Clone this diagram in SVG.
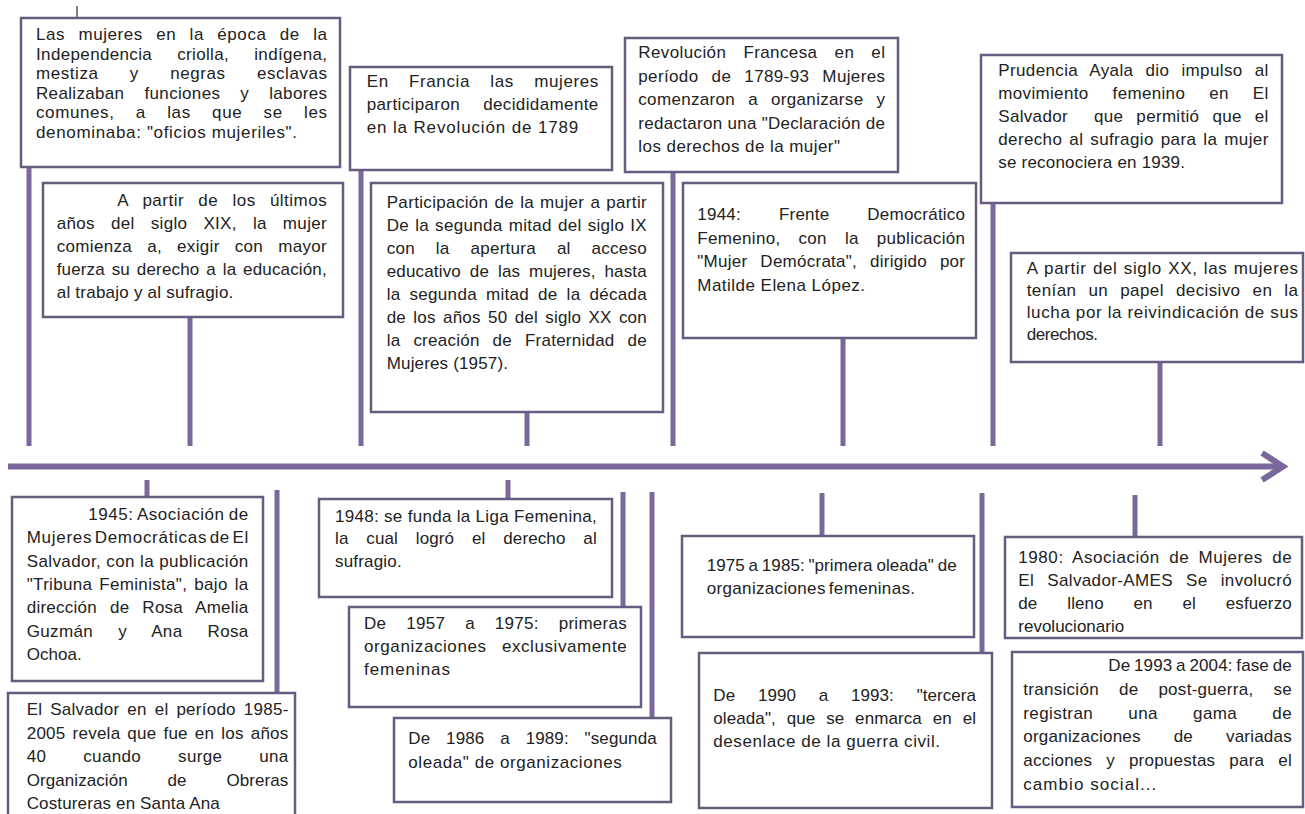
<svg xmlns="http://www.w3.org/2000/svg" width="1305" height="814" viewBox="0 0 1305 814">
  <style>
    .box { fill: #ffffff; stroke: #675c80; stroke-width: 2.5; }
    .ln { stroke: #7a689c; stroke-width: 5; fill: none; }
    .axis { stroke: #7a689c; stroke-width: 6; fill: none; stroke-linecap: butt; }
    text { font-family: "Liberation Sans", Arial, sans-serif; font-size: 17px; fill: #222222; }
  </style>
  <rect width="1305" height="814" fill="#ffffff"/>

  <!-- timeline axis and connector stems -->
  <g id="connectors">
    <line x1="77" y1="6" x2="77" y2="18" stroke="#555555" stroke-width="1.5"/>
    <line class="axis" x1="8" y1="466.5" x2="1280" y2="466.5"/>
    <polyline class="axis" points="1262,453 1283,466.5 1262,480" stroke-linejoin="miter"/>
    <!-- stems above the axis -->
    <line class="ln" x1="29" y1="167" x2="29" y2="446"/>
    <line class="ln" x1="190" y1="317" x2="190" y2="446"/>
    <line class="ln" x1="361" y1="170" x2="361" y2="446"/>
    <line class="ln" x1="527" y1="412" x2="527" y2="446"/>
    <line class="ln" x1="673" y1="172" x2="673" y2="446"/>
    <line class="ln" x1="843" y1="338" x2="843" y2="446"/>
    <line class="ln" x1="993" y1="203" x2="993" y2="446"/>
    <line class="ln" x1="1160" y1="362" x2="1160" y2="446"/>
    <!-- stems below the axis -->
    <line class="ln" x1="147" y1="480" x2="147" y2="497"/>
    <line class="ln" x1="277" y1="490" x2="277" y2="693"/>
    <line class="ln" x1="508" y1="480" x2="508" y2="499"/>
    <line class="ln" x1="623" y1="492" x2="623" y2="606"/>
    <line class="ln" x1="652" y1="492" x2="652" y2="718"/>
    <line class="ln" x1="822" y1="493" x2="822" y2="536"/>
    <line class="ln" x1="982" y1="493" x2="982" y2="653"/>
    <line class="ln" x1="1135" y1="495" x2="1135" y2="537"/>
  </g>

  <!-- upper events -->
  <g id="n-independencia">
    <rect class="box" x="21" y="18" width="319" height="149"/>
    <text x="36" y="40" textLength="291" lengthAdjust="spacing" word-spacing="8">Las mujeres en la época de la</text>
    <text x="36" y="59.6" textLength="291" lengthAdjust="spacing" word-spacing="20">Independencia criolla, indígena,</text>
    <text x="36" y="79.2" textLength="291" lengthAdjust="spacing" word-spacing="26">mestiza y negras esclavas</text>
    <text x="36" y="98.8" textLength="291" lengthAdjust="spacing" word-spacing="15">Realizaban funciones y labores</text>
    <text x="36" y="118.4" textLength="291" lengthAdjust="spacing" word-spacing="16">comunes, a las que se les</text>
    <text x="36" y="138" textLength="261" lengthAdjust="spacing">denominaba: "oficios mujeriles".</text>
  </g>

  <g id="n-siglo-xix">
    <rect class="box" x="43" y="183" width="300" height="134"/>
    <text x="117.3" y="206" textLength="209.4" lengthAdjust="spacing" word-spacing="9">A partir de los últimos</text>
    <text x="56.7" y="229" textLength="270" lengthAdjust="spacing" word-spacing="11">años del siglo XIX, la mujer</text>
    <text x="56.7" y="252" textLength="270" lengthAdjust="spacing" word-spacing="10">comienza a, exigir con mayor</text>
    <text x="56.7" y="275" textLength="270" lengthAdjust="spacing" word-spacing="2">fuerza su derecho a la educación,</text>
    <text x="56.7" y="298" textLength="176.6" lengthAdjust="spacing">al trabajo y al sufragio.</text>
  </g>

  <g id="n-francia-1789">
    <rect class="box" x="350" y="67" width="262" height="103"/>
    <text x="366.7" y="87" textLength="231.6" lengthAdjust="spacing" word-spacing="15">En Francia las mujeres</text>
    <text x="366.7" y="110" textLength="231.6" lengthAdjust="spacing" word-spacing="18">participaron decididamente</text>
    <text x="366.7" y="133" textLength="211.6" lengthAdjust="spacing">en la Revolución de 1789</text>
  </g>

  <g id="n-participacion">
    <rect class="box" x="371" y="183" width="292" height="229"/>
    <text x="386.7" y="208" textLength="260" lengthAdjust="spacing" word-spacing="1">Participación de la mujer a partir</text>
    <text x="386.7" y="231" textLength="260" lengthAdjust="spacing" word-spacing="1">De la segunda mitad del siglo IX</text>
    <text x="386.7" y="254" textLength="260" lengthAdjust="spacing" word-spacing="16">con la apertura al acceso</text>
    <text x="386.7" y="277" textLength="260" lengthAdjust="spacing" word-spacing="4">educativo de las mujeres, hasta</text>
    <text x="386.7" y="300" textLength="260" lengthAdjust="spacing" word-spacing="4">la segunda mitad de la década</text>
    <text x="386.7" y="323" textLength="260" lengthAdjust="spacing" word-spacing="2.5">de los años 50 del siglo XX con</text>
    <text x="386.7" y="346" textLength="260" lengthAdjust="spacing" word-spacing="8">la creación de Fraternidad de</text>
    <text x="386.7" y="369" textLength="121.3" lengthAdjust="spacing">Mujeres (1957).</text>
  </g>

  <g id="n-revolucion-francesa">
    <rect class="box" x="625" y="38" width="273" height="134"/>
    <text x="638.3" y="58" textLength="246.7" lengthAdjust="spacing" word-spacing="12">Revolución Francesa en el</text>
    <text x="638.3" y="81.5" textLength="246.7" lengthAdjust="spacing" word-spacing="8">período de 1789-93 Mujeres</text>
    <text x="638.3" y="105" textLength="246.7" lengthAdjust="spacing" word-spacing="8">comenzaron a organizarse y</text>
    <text x="638.3" y="128.5" textLength="246.7" lengthAdjust="spacing">redactaron una "Declaración de</text>
    <text x="638.3" y="152" textLength="201.7" lengthAdjust="spacing">los derechos de la mujer"</text>
  </g>

  <g id="n-frente-1944">
    <rect class="box" x="683" y="183" width="293" height="155"/>
    <text x="697.3" y="220" textLength="267.7" lengthAdjust="spacing" word-spacing="33">1944: Frente Democrático</text>
    <text x="697.3" y="243.5" textLength="267.7" lengthAdjust="spacing" word-spacing="13">Femenino, con la publicación</text>
    <text x="697.3" y="267" textLength="267.7" lengthAdjust="spacing" word-spacing="8">"Mujer Demócrata", dirigido por</text>
    <text x="697.3" y="290.5" textLength="167.7" lengthAdjust="spacing">Matilde Elena López.</text>
  </g>

  <g id="n-prudencia-ayala">
    <rect class="box" x="981" y="55" width="301" height="148"/>
    <text x="998.3" y="76" textLength="270" lengthAdjust="spacing" word-spacing="7">Prudencia Ayala dio impulso al</text>
    <text x="998.3" y="99" textLength="270" lengthAdjust="spacing" word-spacing="19">movimiento femenino en El</text>
    <text x="998.3" y="122" textLength="270" lengthAdjust="spacing" word-spacing="8">Salvador&#160; que permitió que el</text>
    <text x="998.3" y="145" textLength="270" lengthAdjust="spacing" word-spacing="2">derecho al sufragio para la mujer</text>
    <text x="998.3" y="168" textLength="186.7" lengthAdjust="spacing">se reconociera en 1939.</text>
  </g>

  <g id="n-siglo-xx">
    <rect class="box" x="1011" y="253" width="292" height="109"/>
    <text x="1026.7" y="274" textLength="271.3" lengthAdjust="spacing" word-spacing="1">A partir del siglo XX, las mujeres</text>
    <text x="1026.7" y="296" textLength="271.3" lengthAdjust="spacing" word-spacing="7">tenían un papel decisivo en la</text>
    <text x="1026.7" y="318" textLength="271.3" lengthAdjust="spacing">lucha por la reivindicación de sus</text>
    <text x="1026.7" y="340" textLength="71.3" lengthAdjust="spacing">derechos.</text>
  </g>

  <!-- lower events -->
  <g id="n-asociacion-1945">
    <rect class="box" x="12" y="497" width="251" height="184"/>
    <text x="88.3" y="520" textLength="160" lengthAdjust="spacing" word-spacing="-1">1945: Asociación de</text>
    <text x="26.7" y="543.3" textLength="221.6" lengthAdjust="spacing" word-spacing="-3">Mujeres Democráticas de El</text>
    <text x="26.7" y="566.7" textLength="221.6" lengthAdjust="spacing">Salvador, con la publicación</text>
    <text x="26.7" y="590" textLength="221.6" lengthAdjust="spacing" word-spacing="2">"Tribuna Feminista", bajo la</text>
    <text x="26.7" y="613.3" textLength="221.6" lengthAdjust="spacing" word-spacing="8">dirección de Rosa Amelia</text>
    <text x="26.7" y="636.7" textLength="221.6" lengthAdjust="spacing" word-spacing="20">Guzmán y Ana Rosa</text>
    <text x="26.7" y="660" textLength="55" lengthAdjust="spacing">Ochoa.</text>
  </g>

  <g id="n-obreras-costureras">
    <rect class="box" x="8" y="693" width="287" height="130"/>
    <text x="26.7" y="715" textLength="261.6" lengthAdjust="spacing" word-spacing="3">El Salvador en el período 1985-</text>
    <text x="26.7" y="738.5" textLength="261.6" lengthAdjust="spacing" word-spacing="2">2005 revela que fue en los años</text>
    <text x="26.7" y="762" textLength="261.6" lengthAdjust="spacing" word-spacing="32">40 cuando surge una</text>
    <text x="26.7" y="785.5" textLength="261.6" lengthAdjust="spacing" word-spacing="35">Organización de Obreras</text>
    <text x="26.7" y="809" textLength="193" lengthAdjust="spacing">Costureras en Santa Ana</text>
  </g>

  <g id="n-liga-femenina">
    <rect class="box" x="319" y="499" width="293" height="98"/>
    <text x="335" y="522" textLength="261.7" lengthAdjust="spacing">1948: se funda la Liga Femenina,</text>
    <text x="335" y="544" textLength="261.7" lengthAdjust="spacing" word-spacing="13">la cual logró el derecho al</text>
    <text x="335" y="567" textLength="66.7" lengthAdjust="spacing">sufragio.</text>
  </g>

  <g id="n-1957-1975">
    <rect class="box" x="349" y="607" width="292" height="100"/>
    <text x="364" y="629" textLength="262.7" lengthAdjust="spacing" word-spacing="15">De 1957 a 1975: primeras</text>
    <text x="364" y="652" textLength="262.7" lengthAdjust="spacing" word-spacing="10">organizaciones exclusivamente</text>
    <text x="364" y="675" textLength="86" lengthAdjust="spacing">femeninas</text>
  </g>

  <g id="n-1986-1989">
    <rect class="box" x="394" y="718" width="277" height="84"/>
    <text x="408.3" y="743.5" textLength="248.4" lengthAdjust="spacing" word-spacing="11">De 1986 a 1989: "segunda</text>
    <text x="408.3" y="768" textLength="213.4" lengthAdjust="spacing">oleada" de organizaciones</text>
  </g>

  <g id="n-1975-1985">
    <rect class="box" x="682" y="536" width="292" height="101"/>
    <text x="706.7" y="571" textLength="250" lengthAdjust="spacing" word-spacing="-1">1975 a 1985: "primera oleada" de</text>
    <text x="706.7" y="594" textLength="208.3" lengthAdjust="spacing" word-spacing="-2">organizaciones femeninas.</text>
  </g>

  <g id="n-1990-1993">
    <rect class="box" x="699" y="653" width="293" height="155"/>
    <text x="713.3" y="701" textLength="262.7" lengthAdjust="spacing" word-spacing="18">De 1990 a 1993: "tercera</text>
    <text x="713.3" y="724" textLength="262.7" lengthAdjust="spacing" word-spacing="6">oleada", que se enmarca en el</text>
    <text x="713.3" y="747" textLength="226.7" lengthAdjust="spacing">desenlace de la guerra civil.</text>
  </g>

  <g id="n-ames-1980">
    <rect class="box" x="1005" y="537" width="297" height="101"/>
    <text x="1018.3" y="562.5" textLength="273.4" lengthAdjust="spacing" word-spacing="4">1980: Asociación de Mujeres de</text>
    <text x="1018.3" y="585.5" textLength="273.4" lengthAdjust="spacing" word-spacing="8">El Salvador-AMES Se involucró</text>
    <text x="1018.3" y="608.5" textLength="273.4" lengthAdjust="spacing" word-spacing="25">de lleno en el esfuerzo</text>
    <text x="1018.3" y="631.5">revolucionario</text>
  </g>

  <g id="n-1993-2004">
    <rect class="box" x="1012" y="652" width="291" height="155"/>
    <text x="1108.3" y="671" textLength="183.4" lengthAdjust="spacing" word-spacing="-1">De 1993 a 2004: fase de</text>
    <text x="1023.3" y="695" textLength="268.4" lengthAdjust="spacing" word-spacing="15">transición de post-guerra, se</text>
    <text x="1023.3" y="718.5" textLength="268.4" lengthAdjust="spacing" word-spacing="30">registran una gama de</text>
    <text x="1023.3" y="742" textLength="268.4" lengthAdjust="spacing" word-spacing="28">organizaciones de variadas</text>
    <text x="1023.3" y="765.5" textLength="268.4" lengthAdjust="spacing" word-spacing="9">acciones y propuestas para el</text>
    <text x="1023.3" y="789.5" textLength="133" lengthAdjust="spacing">cambio social...</text>
  </g>
</svg>
